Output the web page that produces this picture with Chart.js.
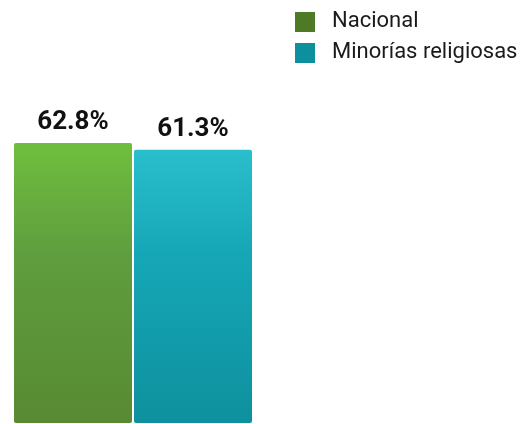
<!DOCTYPE html>
<html>
<head>
<meta charset="utf-8">
<script src="https://cdn.jsdelivr.net/npm/chart.js@4/dist/chart.umd.min.js"></script>
<style>
  html, body { margin: 0; padding: 0; background: #ffffff; }
  #wrap { width: 523px; height: 424px; position: relative; }
</style>
</head>
<body>
<div id="wrap"><canvas id="chart"></canvas></div>
<script>
// === DATEN ===
const CATEGORIES = ['Nacional', 'Minorías religiosas'];
const NACIONAL = [62.8, null];
const MINORIAS = [null, 61.3];
const Y_MAX = 94.9;

// === FARBEN ===
const COLORS = {
    GREEN: { legend: '#4e7a25', top: '#6fbd3e', mid: '#5f9e3e', bottom: '#588a33' },
    CYAN: { legend: '#0e8f9d', top: '#2abfcd', mid: '#16a7b7', bottom: '#0e909e' }
};

// Vertikaler Verlauf für Balken
function barGradient(color) {
    return (context) => {
        const { ctx, chartArea } = context.chart;
        if (!chartArea) return color.mid;
        const g = ctx.createLinearGradient(0, chartArea.top, 0, chartArea.bottom);
        g.addColorStop(0.35, color.top);
        g.addColorStop(0.6, color.mid);
        g.addColorStop(1, color.bottom);
        return g;
    };
}

// Werte über den Balken
const valueLabels = {
    id: 'valueLabels',
    afterDatasetsDraw(chart) {
        const { ctx } = chart;
        ctx.save();
        ctx.font = 'bold 26px Roboto';
        ctx.fillStyle = '#111111';
        ctx.textAlign = 'center';
        ctx.textBaseline = 'alphabetic';
        chart.data.datasets.forEach((ds, i) => {
            chart.getDatasetMeta(i).data.forEach((bar, j) => {
                const v = ds.data[j];
                if (v == null) return;
                ctx.fillText(v.toFixed(1) + '%', bar.x, bar.y - 14);
            });
        });
        ctx.restore();
    }
};

// Legende oben rechts
const sideLegend = {
    id: 'sideLegend',
    afterDraw(chart) {
        const { ctx } = chart;
        ctx.save();
        ctx.font = '22px Roboto';
        ctx.textBaseline = 'middle';
        chart.data.datasets.forEach((ds, i) => {
            const y = 12 + i * 31;
            ctx.fillStyle = ds.legendColor;
            ctx.fillRect(295, y, 20, 20);
            ctx.fillStyle = '#1a1a1a';
            ctx.fillText(ds.label, 332, y + 9);
        });
        ctx.restore();
    }
};

new Chart(document.getElementById('chart'), {
    type: 'bar',
    data: {
        labels: CATEGORIES,
        datasets: [
            {
                label: CATEGORIES[0],
                data: NACIONAL,
                backgroundColor: barGradient(COLORS.GREEN),
                legendColor: COLORS.GREEN.legend,
                borderRadius: 2,
                borderSkipped: false
            },
            {
                label: CATEGORIES[1],
                data: MINORIAS,
                backgroundColor: barGradient(COLORS.CYAN),
                legendColor: COLORS.CYAN.legend,
                borderRadius: 2,
                borderSkipped: false
            }
        ]
    },
    options: {
        responsive: true,
        maintainAspectRatio: false,
        animation: false,
        layout: { padding: { left: 13, right: 270, top: 0, bottom: 1 } },
        datasets: { bar: { grouped: false, categoryPercentage: 1, barPercentage: 118 / 120 } },
        plugins: {
            legend: { display: false },
            tooltip: { enabled: false }
        },
        scales: {
            x: { display: false },
            y: { display: false, min: 0, max: Y_MAX }
        }
    },
    plugins: [valueLabels, sideLegend]
});
</script>
</body>
</html>
